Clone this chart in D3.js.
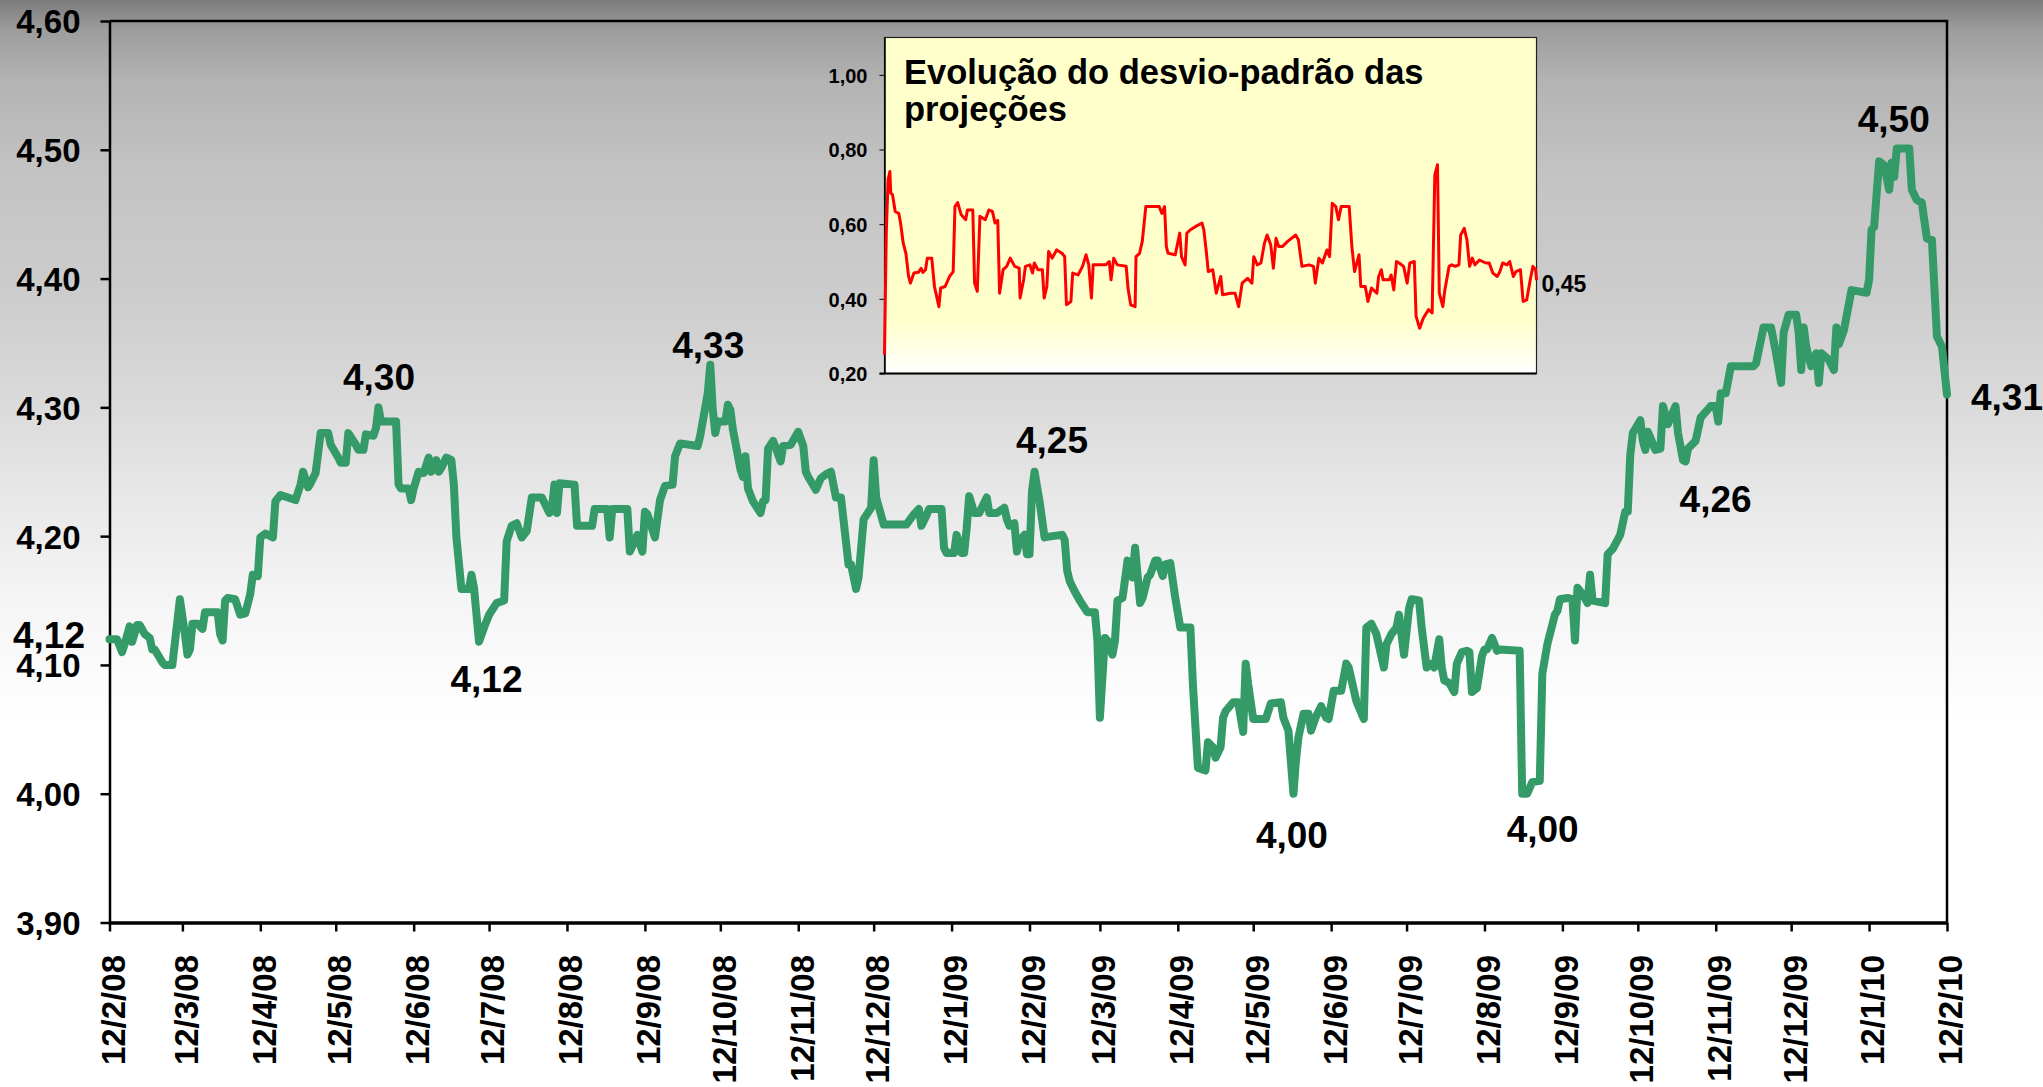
<!DOCTYPE html>
<html>
<head>
<meta charset="utf-8">
<script src="https://cdn.jsdelivr.net/npm/d3@7"></script>
<style>
    body { margin: 0; background: #fff; }
    svg text { font-family: "Liberation Sans", Arial, sans-serif; font-weight: bold; fill: #000; }
</style>
</head>
<body>
<div id="chart-area"></div>
<script>
// day offsets are counted from the first date (12/2/08)
var startLabel = "12/2/08";

var mainDays = [0, 3, 5, 6, 8, 9, 11, 12, 14, 16, 17, 18, 21, 22, 25, 27, 28, 30, 31, 32, 33, 35, 37, 38, 43, 44, 45, 46, 47, 50,
    52, 54, 56, 57, 59, 60, 62, 65, 66, 68, 74, 76, 77, 79, 80, 82, 84, 87, 88, 91, 92, 94, 95, 98, 99, 101, 102, 105, 106, 107,
    108, 114, 115, 116, 119, 120, 121, 123, 125, 127, 128, 130, 131, 132, 134, 136, 137, 138, 140, 143, 144, 145, 147, 149, 151, 154, 157, 158, 160, 162,
    164, 166, 168, 172, 175, 176, 177, 178, 179, 185, 186, 192, 193, 198, 199, 200, 206, 207, 210, 212, 213, 214, 217, 219, 221, 224, 225, 227, 234, 235,
    238, 239, 240, 241, 242, 245, 246, 247, 248, 251, 252, 253, 254, 256, 259, 260, 261, 262, 264, 267, 268, 271, 274, 276, 277, 278, 281, 283, 285, 287,
    288, 289, 291, 294, 295, 297, 298, 300, 303, 304, 305, 307, 308, 317, 320, 322, 323, 325, 326, 331, 332, 333, 336, 337, 339, 340, 341, 342, 344, 346,
    349, 350, 353, 356, 357, 358, 360, 361, 362, 364, 365, 366, 367, 368, 370, 372, 375, 379, 380, 381, 382, 384, 386, 388, 389, 392, 393, 394, 396, 397,
    399, 400, 401, 403, 405, 407, 408, 410, 411, 413, 414, 416, 417, 419, 420, 422, 424, 426, 430, 431, 433, 436, 437, 439, 440, 442, 443, 444, 447, 449,
    451, 452, 453, 455, 460, 462, 466, 467, 469, 471, 472, 473, 475, 477, 478, 480, 482, 484, 485, 487, 490, 492, 493, 496, 499, 500, 502, 504, 507, 508,
    510, 512, 513, 515, 517, 518, 521, 522, 524, 526, 527, 529, 530, 531, 533, 535, 536, 538, 540, 541, 542, 544, 546, 547, 548, 550, 552, 553, 561, 562,
    564, 566, 569, 570, 572, 575, 576, 577, 580, 582, 583, 584, 586, 588, 589, 590, 595, 596, 598, 601, 603, 604, 605, 606, 609, 610, 611, 612, 615, 617,
    618, 620, 621, 623, 624, 626, 627, 628, 631, 633, 637, 639, 640, 641, 643, 645, 654, 655, 658, 661, 663, 665, 666, 668, 671, 672, 673, 674, 675, 677,
    679, 680, 681, 684, 686, 687, 688, 690, 693, 699, 700, 701, 702, 704, 706, 708, 709, 710, 711, 716, 717, 719, 721, 723, 725, 727, 729, 731];

var mainValues = [4.12, 4.12, 4.11, 4.116, 4.13, 4.118, 4.131, 4.131, 4.124, 4.121, 4.112, 4.112, 4.102, 4.10, 4.10, 4.134, 4.151, 4.124, 4.108, 4.112, 4.132, 4.132, 4.128, 4.141, 4.141, 4.124, 4.119, 4.150, 4.152, 4.151,
    4.139, 4.140, 4.155, 4.170, 4.169, 4.199, 4.202, 4.199, 4.227, 4.232, 4.228, 4.240, 4.250, 4.238, 4.241, 4.249, 4.280, 4.280, 4.271, 4.261, 4.257, 4.257, 4.280, 4.271, 4.267, 4.267, 4.279, 4.278, 4.284, 4.300,
    4.289, 4.289, 4.240, 4.237, 4.237, 4.228, 4.237, 4.250, 4.249, 4.261, 4.250, 4.259, 4.250, 4.253, 4.261, 4.259, 4.240, 4.199, 4.159, 4.159, 4.170, 4.160, 4.118, 4.129, 4.139, 4.148, 4.150, 4.196, 4.208, 4.210,
    4.199, 4.204, 4.230, 4.230, 4.218, 4.221, 4.240, 4.218, 4.241, 4.240, 4.208, 4.208, 4.221, 4.221, 4.199, 4.221, 4.221, 4.188, 4.201, 4.188, 4.219, 4.217, 4.199, 4.228, 4.239, 4.240, 4.262, 4.272, 4.270, 4.278,
    4.311, 4.333, 4.298, 4.280, 4.289, 4.289, 4.302, 4.298, 4.283, 4.252, 4.246, 4.262, 4.237, 4.227, 4.218, 4.227, 4.228, 4.268, 4.274, 4.258, 4.270, 4.271, 4.281, 4.270, 4.250, 4.246, 4.236, 4.245, 4.248, 4.250,
    4.240, 4.230, 4.230, 4.178, 4.178, 4.159, 4.168, 4.213, 4.222, 4.259, 4.230, 4.216, 4.209, 4.209, 4.217, 4.221, 4.208, 4.216, 4.221, 4.221, 4.191, 4.187, 4.187, 4.201, 4.187, 4.187, 4.206, 4.231, 4.218, 4.218,
    4.230, 4.218, 4.218, 4.222, 4.213, 4.208, 4.210, 4.188, 4.196, 4.201, 4.186, 4.186, 4.235, 4.250, 4.227, 4.199, 4.200, 4.201, 4.197, 4.173, 4.165, 4.157, 4.150, 4.144, 4.141, 4.141, 4.119, 4.059, 4.121, 4.119,
    4.108, 4.119, 4.150, 4.152, 4.181, 4.168, 4.191, 4.148, 4.152, 4.168, 4.170, 4.181, 4.181, 4.169, 4.178, 4.179, 4.152, 4.129, 4.129, 4.085, 4.020, 4.018, 4.040, 4.036, 4.028, 4.036, 4.059, 4.064, 4.071, 4.071,
    4.048, 4.101, 4.085, 4.058, 4.058, 4.070, 4.071, 4.059, 4.049, 4.000, 4.026, 4.044, 4.062, 4.062, 4.049, 4.060, 4.068, 4.059, 4.058, 4.080, 4.080, 4.101, 4.098, 4.072, 4.058, 4.129, 4.132, 4.124, 4.098, 4.116,
    4.124, 4.129, 4.139, 4.108, 4.144, 4.151, 4.150, 4.129, 4.098, 4.101, 4.098, 4.120, 4.098, 4.088, 4.086, 4.079, 4.101, 4.110, 4.111, 4.110, 4.079, 4.082, 4.107, 4.112, 4.112, 4.121, 4.111, 4.112, 4.111, 4.000,
    4.000, 4.009, 4.010, 4.093, 4.116, 4.139, 4.142, 4.151, 4.152, 4.151, 4.119, 4.160, 4.155, 4.148, 4.170, 4.150, 4.148, 4.186, 4.190, 4.201, 4.219, 4.219, 4.263, 4.280, 4.290, 4.274, 4.267, 4.281, 4.267, 4.268,
    4.301, 4.287, 4.292, 4.301, 4.280, 4.259, 4.258, 4.268, 4.274, 4.292, 4.301, 4.301, 4.289, 4.311, 4.311, 4.332, 4.332, 4.334, 4.362, 4.362, 4.342, 4.319, 4.358, 4.372, 4.372, 4.358, 4.329, 4.362, 4.347, 4.332,
    4.342, 4.319, 4.342, 4.337, 4.329, 4.362, 4.349, 4.360, 4.391, 4.389, 4.399, 4.438, 4.440, 4.491, 4.488, 4.469, 4.490, 4.479, 4.501, 4.501, 4.469, 4.461, 4.459, 4.431, 4.430, 4.355, 4.347, 4.31];

// desvio-padrao (inset)
var sdDays = [0, 2, 4, 6, 7, 9, 12, 16, 18, 21, 24, 27, 29, 33, 38, 41, 43, 46, 48, 53, 56, 61, 63, 68, 73, 77, 79, 82, 86, 91,
    93, 99, 101, 104, 107, 113, 117, 121, 124, 127, 129, 133, 137, 141, 146, 151, 152, 156, 158, 163, 166, 168, 172, 177, 179, 182, 184, 188, 193, 199,
    202, 204, 209, 211, 217, 222, 226, 229, 232, 234, 248, 252, 254, 257, 261, 271, 273, 276, 281, 282, 286, 289, 293, 308, 311, 314, 316, 318, 326, 331,
    333, 337, 339, 343, 349, 356, 358, 361, 363, 368, 372, 377, 379, 388, 393, 397, 401, 407, 412, 414, 418, 422, 426, 429, 433, 436, 439, 442, 446, 452,
    461, 464, 468, 476, 481, 483, 487, 491, 496, 499, 502, 506, 509, 512, 521, 524, 527, 532, 534, 539, 542, 546, 552, 554, 557, 559, 566, 568, 571, 574,
    577, 582, 586, 589, 594, 596, 600, 604, 610, 614, 617, 620, 622, 626, 628, 633, 636, 640, 644, 646, 650, 653, 656, 659, 662, 667, 674, 678, 682, 687,
    690, 693, 698, 701, 705, 708, 713, 716, 720, 724, 727, 730, 731];

var sdValues = [0.25, 0.576, 0.719, 0.741, 0.683, 0.679, 0.634, 0.629, 0.603, 0.549, 0.522, 0.460, 0.442, 0.469, 0.471, 0.482, 0.471, 0.478, 0.509, 0.509, 0.433, 0.379, 0.429, 0.433, 0.460, 0.473, 0.647, 0.658, 0.625, 0.612,
    0.638, 0.638, 0.442, 0.420, 0.621, 0.612, 0.638, 0.634, 0.603, 0.610, 0.415, 0.478, 0.487, 0.509, 0.487, 0.482, 0.402, 0.451, 0.487, 0.491, 0.469, 0.496, 0.478, 0.478, 0.402, 0.433, 0.527, 0.509, 0.531, 0.522,
    0.513, 0.384, 0.393, 0.469, 0.464, 0.487, 0.518, 0.491, 0.402, 0.491, 0.491, 0.500, 0.451, 0.509, 0.491, 0.487, 0.429, 0.384, 0.379, 0.513, 0.522, 0.554, 0.647, 0.647, 0.629, 0.647, 0.540, 0.522, 0.518, 0.576,
    0.513, 0.491, 0.576, 0.585, 0.594, 0.603, 0.585, 0.522, 0.473, 0.478, 0.415, 0.460, 0.411, 0.415, 0.415, 0.379, 0.442, 0.455, 0.442, 0.513, 0.491, 0.496, 0.549, 0.571, 0.545, 0.482, 0.562, 0.540, 0.540, 0.554,
    0.571, 0.558, 0.487, 0.491, 0.487, 0.442, 0.509, 0.496, 0.531, 0.513, 0.656, 0.647, 0.612, 0.647, 0.647, 0.540, 0.473, 0.518, 0.433, 0.433, 0.393, 0.429, 0.415, 0.460, 0.478, 0.451, 0.451, 0.464, 0.424, 0.500,
    0.496, 0.487, 0.442, 0.496, 0.500, 0.353, 0.321, 0.348, 0.371, 0.362, 0.732, 0.759, 0.415, 0.379, 0.420, 0.487, 0.491, 0.487, 0.491, 0.571, 0.589, 0.558, 0.487, 0.509, 0.491, 0.504, 0.496, 0.496, 0.469, 0.460,
    0.473, 0.496, 0.491, 0.500, 0.460, 0.473, 0.478, 0.393, 0.397, 0.451, 0.487, 0.478, 0.45];

var monthLabels = ["12/2/08", "12/3/08", "12/4/08", "12/5/08", "12/6/08", "12/7/08", "12/8/08", "12/9/08", "12/10/08", "12/11/08", "12/12/08", "12/1/09",
    "12/2/09", "12/3/09", "12/4/09", "12/5/09", "12/6/09", "12/7/09", "12/8/09", "12/9/09", "12/10/09", "12/11/09", "12/12/09", "12/1/10", "12/2/10"];
var yTicks = [3.9, 4.0, 4.1, 4.2, 4.3, 4.4, 4.5, 4.6];
var sdTicks = [0.2, 0.4, 0.6, 0.8, 1.0];

// highlighted values
var labelDays = [0, 107, 147, 239, 368, 471, 563, 627, 713, 731];
var labelValues = [4.12, 4.30, 4.12, 4.33, 4.25, 4.00, 4.00, 4.26, 4.50, 4.31];
var sdLastValue = 0.45;
var insetTitle = ["Evolução do desvio-padrão das", "projeções"];


LineChart = function(_parentElement) {
    this.parentElement = _parentElement;
    this.initVis();
};

LineChart.prototype.initVis = function() {
    var vis = this;

    vis.width = 2043;
    vis.height = 1087;
    vis.plot = { left: 109.5, right: 1947, top: 21, bottom: 922.5 };
    vis.inset = { left: 884.5, right: 1536.5, top: 37.5, bottom: 373.5 };

    vis.svg = d3.select("#" + vis.parentElement).append("svg")
        .attr("width", vis.width)
        .attr("height", vis.height);

    var defs = vis.svg.append("defs");

    // grey background fading to white
    var bg = defs.append("linearGradient")
        .attr("id", "bg-grad")
        .attr("gradientUnits", "userSpaceOnUse")
        .attr("x1", 0).attr("y1", 0).attr("x2", 0).attr("y2", vis.height);
    [[0, "#7b7b7b"], [30, "#9d9d9d"], [80, "#b3b3b3"], [170, "#c3c3c3"], [300, "#cdcdcd"],
        [400, "#dadada"], [500, "#e8e8e8"], [600, "#f5f5f5"], [720, "#ffffff"], [1087, "#ffffff"]]
        .forEach(function(s) {
            bg.append("stop").attr("offset", s[0] / vis.height).attr("stop-color", s[1]);
        });

    var yel = defs.append("linearGradient")
        .attr("id", "inset-grad")
        .attr("x1", 0).attr("y1", 0).attr("x2", 0).attr("y2", 1);
    yel.append("stop").attr("offset", 0).attr("stop-color", "#ffffcc");
    yel.append("stop").attr("offset", 0.84).attr("stop-color", "#ffffcc");
    yel.append("stop").attr("offset", 1).attr("stop-color", "#ffffff");

    vis.svg.append("rect")
        .attr("width", vis.width)
        .attr("height", vis.height)
        .attr("fill", "url(#bg-grad)");

    vis.parseTick = d3.timeParse("%d/%m/%y");
    vis.startDate = vis.parseTick(startLabel);

    vis.x = d3.scaleTime()
        .domain([vis.startDate, vis.parseTick(monthLabels[monthLabels.length - 1])])
        .range([vis.plot.left, vis.plot.right]);

    vis.y = d3.scaleLinear()
        .domain([3.9, 4.6])
        .range([vis.plot.bottom, vis.plot.top]);

    vis.xi = d3.scaleTime()
        .domain(vis.x.domain())
        .range([vis.inset.left, vis.inset.right]);

    vis.yi = d3.scaleLinear()
        .domain([0.2, 1.1])
        .range([vis.inset.bottom, vis.inset.top]);

    vis.comma = function(v) { return d3.format(".2f")(v).replace(".", ","); };

    vis.wrangleData();
};

LineChart.prototype.wrangleData = function() {
    var vis = this;

    vis.mainData = mainDays.map(function(d, i) {
        return { date: d3.timeDay.offset(vis.startDate, d), value: mainValues[i] };
    });
    vis.sdData = sdDays.map(function(d, i) {
        return { date: d3.timeDay.offset(vis.startDate, d), value: sdValues[i] };
    });
    vis.labels = labelDays.map(function(d, i) {
        return { date: d3.timeDay.offset(vis.startDate, d), value: labelValues[i] };
    });

    vis.updateVis();
};

LineChart.prototype.updateVis = function() {
    var vis = this;

    // frame (top + right border)
    vis.svg.append("path")
        .attr("d", "M" + vis.plot.left + "," + vis.plot.top + "H" + vis.plot.right + "V" + vis.plot.bottom)
        .attr("fill", "none")
        .attr("stroke", "#000")
        .attr("stroke-width", 2.5);

    // y axis
    var yAxis = d3.axisLeft(vis.y)
        .tickValues(yTicks)
        .tickSize(9)
        .tickSizeOuter(0)
        .tickPadding(20)
        .tickFormat(vis.comma);

    var gy = vis.svg.append("g")
        .attr("transform", "translate(" + vis.plot.left + ",0)")
        .call(yAxis);
    gy.select(".domain").attr("stroke-width", 2.5);
    gy.selectAll(".tick line").attr("stroke-width", 2.5);
    gy.selectAll("text").attr("font-size", 33).attr("dy", "0.36em");

    // x axis
    var xAxis = d3.axisBottom(vis.x)
        .tickValues(monthLabels.map(vis.parseTick))
        .tickSize(9)
        .tickSizeOuter(0)
        .tickFormat(d3.timeFormat("%-d/%-m/%y"));

    var gx = vis.svg.append("g")
        .attr("transform", "translate(0," + vis.plot.bottom + ")")
        .call(xAxis);
    gx.select(".domain").attr("stroke-width", 3.5);
    gx.selectAll(".tick line").attr("stroke-width", 2.5);
    gx.selectAll("text")
        .attr("font-size", 33)
        .attr("transform", "rotate(-90)")
        .attr("text-anchor", "end")
        .attr("x", -32.5)
        .attr("y", 0)
        .attr("dy", "0.45em");

    vis.svg.selectAll(".tick text").attr("fill", "#000");

    // main line
    var line = d3.line()
        .x(function(d) { return vis.x(d.date); })
        .y(function(d) { return vis.y(d.value); });

    vis.svg.append("path")
        .datum(vis.mainData)
        .attr("d", line)
        .attr("fill", "none")
        .attr("stroke", "#349a67")
        .attr("stroke-width", 8)
        .attr("stroke-linejoin", "round")
        .attr("stroke-linecap", "round");

    // value labels, offsets are relative to the point they name
    var offsets = [[-24.5, 9, "end"], [0.5, -17.5, "middle"], [7.5, 53, "middle"], [-2, -10.5, "middle"],
        [17.5, -18.5, "middle"], [-1.5, 54, "middle"], [18, 48, "middle"], [30, 53, "middle"],
        [-8, -18, "middle"], [24, 15.5, "start"]];

    vis.svg.selectAll(".val-label")
        .data(vis.labels)
        .enter().append("text")
        .attr("class", "val-label")
        .attr("font-size", 37)
        .attr("text-anchor", function(d, i) { return offsets[i][2]; })
        .attr("x", function(d, i) { return vis.x(d.date) + offsets[i][0]; })
        .attr("y", function(d, i) { return vis.y(d.value) + offsets[i][1]; })
        .text(function(d) { return vis.comma(d.value); });

    // inset: desvio-padrao
    var ins = vis.inset;
    vis.svg.append("rect")
        .attr("x", ins.left)
        .attr("y", ins.top)
        .attr("width", ins.right - ins.left)
        .attr("height", ins.bottom - ins.top)
        .attr("fill", "url(#inset-grad)")
        .attr("stroke", "#222")
        .attr("stroke-width", 1.2);

    var sdAxis = d3.axisLeft(vis.yi)
        .tickValues(sdTicks)
        .tickSize(5)
        .tickSizeOuter(0)
        .tickPadding(12)
        .tickFormat(vis.comma);

    var gs = vis.svg.append("g")
        .attr("transform", "translate(" + ins.left + ",0)")
        .call(sdAxis);
    gs.select(".domain").attr("stroke-width", 1.5);
    gs.selectAll("text").attr("font-size", 20).attr("fill", "#000").attr("dy", "0.36em");

    vis.svg.append("line")
        .attr("x1", ins.left - 5).attr("x2", ins.right)
        .attr("y1", ins.bottom).attr("y2", ins.bottom)
        .attr("stroke", "#000")
        .attr("stroke-width", 2);

    var sdLine = d3.line()
        .x(function(d) { return vis.xi(d.date); })
        .y(function(d) { return vis.yi(d.value); });

    vis.svg.append("path")
        .datum(vis.sdData)
        .attr("d", sdLine)
        .attr("fill", "none")
        .attr("stroke", "#ff0000")
        .attr("stroke-width", 3)
        .attr("stroke-linejoin", "round");

    vis.svg.append("text")
        .attr("font-size", 23)
        .attr("x", vis.xi(vis.sdData[vis.sdData.length - 1].date) + 5)
        .attr("y", vis.yi(sdLastValue) + 12)
        .text(vis.comma(sdLastValue));

    vis.svg.selectAll(".inset-title")
        .data(insetTitle)
        .enter().append("text")
        .attr("class", "inset-title")
        .attr("font-size", 34.5)
        .attr("x", ins.left + 19.5)
        .attr("y", function(d, i) { return ins.top + 46.5 + i * 37; })
        .text(function(d) { return d; });
};

var chart = new LineChart("chart-area");
</script>
</body>
</html>
